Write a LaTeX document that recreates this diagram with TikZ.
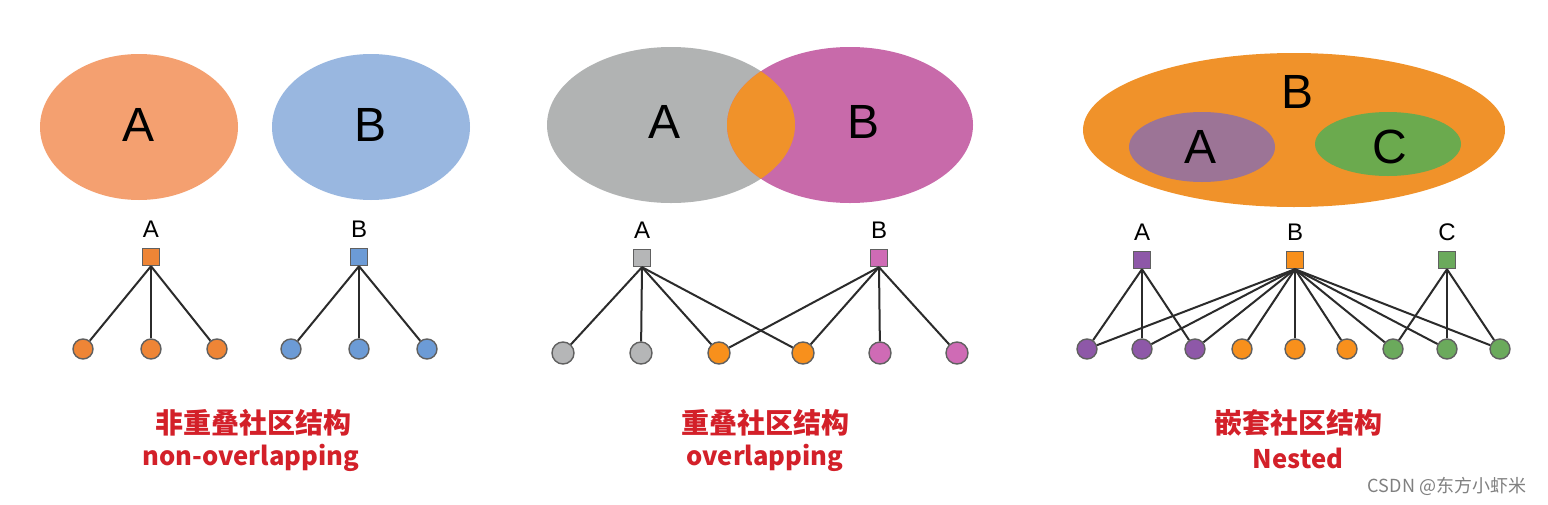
\documentclass[tikz,border=0pt]{standalone}
\usepackage{fontspec}
\setmainfont{Liberation Sans}
\newfontfamily\cjk{Noto Sans CJK SC}
\usetikzlibrary{shapes.geometric,positioning}
\definecolor{cOrA}{HTML}{F4A070}
\definecolor{cBlue}{HTML}{99B7E0}
\definecolor{cGray}{HTML}{B1B3B3}
\definecolor{cMag}{HTML}{C86AAA}
\definecolor{cOrange}{HTML}{F0922A}
\definecolor{cPurp}{HTML}{9C7496}
\definecolor{cGreen}{HTML}{6BAA4E}
\definecolor{lOr}{HTML}{EE8536}
\definecolor{lBlue}{HTML}{6C9BD6}
\definecolor{lGray}{HTML}{B5B6B7}
\definecolor{lMag}{HTML}{CF6BB5}
\definecolor{lOrange}{HTML}{F8901C}
\definecolor{lPurp}{HTML}{8E58A8}
\definecolor{lGreen}{HTML}{6BAA5C}
\definecolor{capred}{HTML}{D32029}
\definecolor{edge}{HTML}{2B2B2B}
\tikzset{
  leaf/.style={circle, draw=edge!75, line width=0.7pt, minimum size=10pt, inner sep=0pt},
  hub/.style={rectangle, draw=edge!75, line width=0.7pt, minimum size=8.5pt, inner sep=0pt},
  hublabel/.style={font=\fontsize{12}{13}\selectfont, text=black},
  biglabel/.style={font=\fontsize{24}{26}\selectfont, text=black},
  link/.style={draw=edge, line width=1pt},
  capcn/.style={font=\cjk\bfseries\fontsize{14}{16}\selectfont, text=capred},
  capen/.style={font=\cjk\bfseries\fontsize{12.8}{16}\selectfont, text=capred},
}
\begin{document}
\begin{tikzpicture}[x=0.5pt,y=-0.5pt]
\path[use as bounding box, fill=white] (0,0) rectangle (1548,504);

% ---------- Panel 1: non-overlapping ----------
\fill[cOrA] (139,127) ellipse [x radius=99, y radius=73];
\fill[cBlue] (371,127) ellipse [x radius=99, y radius=73];
\node[biglabel] (p1A) at (139,125) {A};
\node[biglabel] (p1B) at (371,125) {B};

\node[hub, fill=lOr] (p1sa) at (151,257) {};
\node[hublabel, above=1.5pt of p1sa] (p1la) {A};
\node[hub, fill=lBlue] (p1sb) at (359,257) {};
\node[hublabel, above=1.5pt of p1sb] (p1lb) {B};
\foreach \i/\x in {1/83,2/151,3/217} {
  \node[leaf, fill=lOr] (p1a\i) at (\x,349) {};
  \draw[link] (p1sa.south) -- (p1a\i);
}
\foreach \i/\x in {1/291,2/359,3/427} {
  \node[leaf, fill=lBlue] (p1b\i) at (\x,349) {};
  \draw[link] (p1sb.south) -- (p1b\i);
}
\node[capcn] (c1a) at (253,423) {非重叠社区结构};
\node[capen] (c1b) at (251,458) {non-overlapping};

% ---------- Panel 2: overlapping ----------
\fill[cGray] (671,125) ellipse [x radius=124, y radius=78];
\fill[cMag] (850,125) ellipse [x radius=123, y radius=78];
\begin{scope}
  \clip (671,125) ellipse [x radius=124, y radius=78];
  \fill[cOrange] (850,125) ellipse [x radius=123, y radius=78];
\end{scope}
\node[biglabel] (p2A) at (665,122) {A};
\node[biglabel] (p2B) at (863,122) {B};

\node[hub, fill=lGray] (p2sa) at (642,258) {};
\node[hublabel, above=1.5pt of p2sa] (p2la) {A};
\node[hub, fill=lMag] (p2sb) at (879,258) {};
\node[hublabel, above=1.5pt of p2sb] (p2lb) {B};
\node[leaf, fill=lGray, minimum size=11pt] (p2n1) at (563,353) {};
\node[leaf, fill=lGray, minimum size=11pt] (p2n2) at (641,353) {};
\node[leaf, fill=lOrange, minimum size=11pt] (p2n3) at (719,353) {};
\node[leaf, fill=lOrange, minimum size=11pt] (p2n4) at (803,353) {};
\node[leaf, fill=lMag, minimum size=11pt] (p2n5) at (880,353) {};
\node[leaf, fill=lMag, minimum size=11pt] (p2n6) at (957,353) {};
\foreach \i in {1,2,3,4} \draw[link] (p2sa.south) -- (p2n\i);
\foreach \i in {3,4,5,6} \draw[link] (p2sb.south) -- (p2n\i);
\node[capcn] (c2a) at (765,423) {重叠社区结构};
\node[capen] (c2b) at (765,458) {overlapping};

% ---------- Panel 3: nested ----------
\fill[cOrange] (1294,130) ellipse [x radius=211, y radius=77];
\fill[cPurp] (1202,147) ellipse [x radius=73, y radius=35];
\fill[cGreen] (1388,144) ellipse [x radius=73, y radius=32];
\node[biglabel] (p3B) at (1297,92) {B};
\node[biglabel] (p3A) at (1200,147) {A};
\node[biglabel] (p3C) at (1390,147) {C};

\node[hub, fill=lPurp] (p3sa) at (1142,260) {};
\node[hublabel, above=1.5pt of p3sa] (p3la) {A};
\node[hub, fill=lOrange] (p3sb) at (1295,260) {};
\node[hublabel, above=1.5pt of p3sb] (p3lb) {B};
\node[hub, fill=lGreen] (p3sc) at (1447,260) {};
\node[hublabel, above=1.5pt of p3sc] (p3lc) {C};
\foreach \i/\x/\c in {1/1087/lPurp,2/1142/lPurp,3/1195/lPurp,4/1242/lOrange,5/1295/lOrange,6/1347/lOrange,7/1393/lGreen,8/1447/lGreen,9/1500/lGreen} {
  \node[leaf, fill=\c] (p3n\i) at (\x,349) {};
}
\foreach \i in {1,...,9} \draw[link] (p3sb.south) -- (p3n\i);
\foreach \i in {1,2,3} \draw[link] (p3sa.south) -- (p3n\i);
\foreach \i in {7,8,9} \draw[link] (p3sc.south) -- (p3n\i);
\node[capcn] (c3a) at (1298,423) {嵌套社区结构};
\node[capen] (c3b) at (1298,458) {Nested};

% watermark
\node[font=\cjk\fontsize{9}{10}\selectfont, text=black!50] (wm) at (1447,486) {CSDN @东方小虾米};
\end{tikzpicture}
\end{document}
